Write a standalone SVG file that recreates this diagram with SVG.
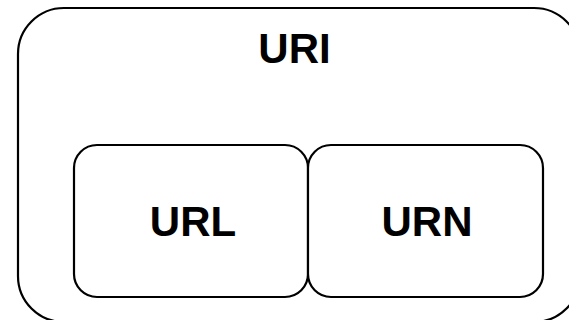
<svg xmlns="http://www.w3.org/2000/svg" width="569" height="320" viewBox="0 0 569 320">
  <style>
    .box { fill: #ffffff; stroke: #000000; stroke-width: 2.2; }
    .label { font-family: "Liberation Sans", Arial, sans-serif; font-weight: bold; font-size: 42px; fill: #000000; text-anchor: middle; }
  </style>
  <rect width="569" height="320" fill="#ffffff"/>
  <g id="uri">
    <rect class="box" x="18" y="8" width="562" height="314" rx="46" ry="46"/>
    <text class="label" x="294.5" y="63">URI</text>
  </g>
  <g id="url">
    <rect class="box" x="74" y="145" width="234" height="152" rx="23" ry="23"/>
    <text class="label" x="193" y="236">URL</text>
  </g>
  <g id="urn">
    <rect class="box" x="308" y="145" width="235" height="152" rx="23" ry="23"/>
    <text class="label" x="427" y="236">URN</text>
  </g>
  <g id="connectors"/>
</svg>
